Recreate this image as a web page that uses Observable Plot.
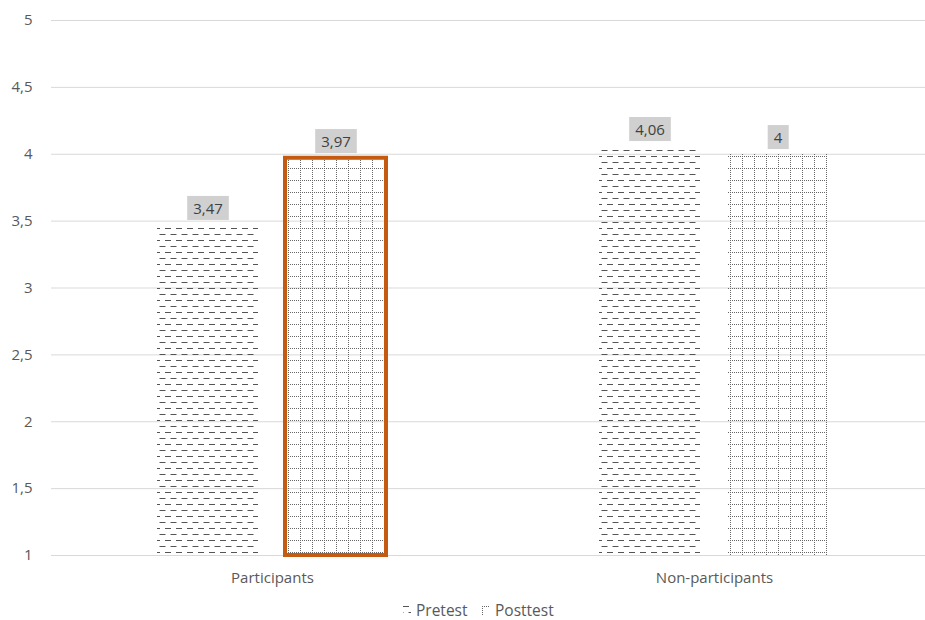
<!DOCTYPE html>
<html>
<head>
<meta charset="utf-8">
<script src="https://cdn.jsdelivr.net/npm/d3@7"></script>
<script src="https://cdn.jsdelivr.net/npm/@observablehq/plot@0.6"></script>
<style>
  body { margin: 0; background: #fff; font-family: "Open Sans", sans-serif; }
  #chart svg { display: block; }
  #legend { position: relative; height: 22px; }
  #legend .item { position: absolute; top: 1px; display: flex; align-items: center; gap: 5px;
                  font-size: 15.5px; color: #595959; }
</style>
</head>
<body>
<!-- fill patterns shared by the bars and the legend swatches -->
<svg width="0" height="0" style="position:absolute">
  <defs>
    <pattern id="pat-pretest" patternUnits="userSpaceOnUse" width="11" height="12">
      <path d="M0,0.5H6M5.5,6.5H11M0,6.5H0.5" stroke="#555" stroke-width="1" fill="none"/>
    </pattern>
    <pattern id="pat-posttest" patternUnits="userSpaceOnUse" width="12" height="12">
      <path d="M0,0.5H12M0.5,0V12" stroke="#666" stroke-width="1" stroke-dasharray="1 1" fill="none"/>
    </pattern>
  </defs>
</svg>
<div id="chart"></div>
<div id="legend"></div>
<script>
const categories = ["Participants", "Non-participants"];
const series = ["Pretest", "Posttest"];
const pretest = [3.47, 4.06];
const posttest = [3.97, 4];
const yTicks = [1, 1.5, 2, 2.5, 3, 3.5, 4, 4.5, 5];
const highlighted = {category: "Participants", series: "Posttest"};

const rows = categories.flatMap((category, i) => [
  {category, series: "Pretest", value: pretest[i]},
  {category, series: "Posttest", value: posttest[i]}
]);

const comma = (d) => String(d).replace(".", ",");
const yMin = yTicks[0];

const chart = Plot.plot({
  width: 925,
  height: 598,
  marginTop: 20,
  marginBottom: 43,
  marginLeft: 51,
  marginRight: 0,
  style: {fontFamily: "Open Sans, sans-serif", fontSize: "15px", color: "#595959", background: "#fff"},
  fx: {domain: categories, range: [51, 935], padding: 0, label: null},
  x: {domain: series, paddingInner: 0.21, paddingOuter: 0.83, axis: null},
  y: {domain: [yTicks[0], yTicks[yTicks.length - 1]], label: null},
  color: {domain: series, range: ["url(#pat-pretest)", "url(#pat-posttest)"]},
  marks: [
    Plot.ruleY(yTicks, {stroke: "#d9d9d9", strokeWidth: 1}),
    Plot.axisY({ticks: yTicks, tickSize: 0, tickPadding: 19, tickFormat: comma, label: null,
                fontSize: 15, fill: "#595959"}),
    Plot.axisFx({anchor: "bottom", tickSize: 0, tickPadding: 17, label: null, fontSize: 15, fill: "#595959"}),
    Plot.barY(rows, {fx: "category", x: "series", y1: yMin, y2: "value", fill: "series"}),
    Plot.barY(rows.filter(d => d.category === highlighted.category && d.series === highlighted.series),
      {fx: "category", x: "series", y1: yMin, y2: "value", fill: "none", stroke: "#c55a11", strokeWidth: 4}),
    Plot.text(rows, {fx: "category", x: "series", y: "value", text: d => comma(d.value), dy: -16,
      fontSize: 15, fill: "#404040", className: "value-labels"})
  ]
});

document.getElementById("chart").append(chart);

// grey boxes behind the value labels
chart.querySelectorAll(".value-labels text").forEach((t) => {
  const b = t.getBBox();
  const cy = b.y + b.height / 2;
  const r = document.createElementNS("http://www.w3.org/2000/svg", "rect");
  r.setAttribute("x", b.x - 6);
  r.setAttribute("y", cy - 12);
  r.setAttribute("width", b.width + 12);
  r.setAttribute("height", 24);
  r.setAttribute("fill", "#d0d0d0");
  const tr = t.getAttribute("transform");
  if (tr) r.setAttribute("transform", tr);
  t.parentNode.insertBefore(r, t);
});

// legend
const legend = document.getElementById("legend");
const legendLeft = [403, 482];
series.forEach((s, i) => {
  const item = document.createElement("div");
  item.className = "item";
  item.style.left = legendLeft[i] + "px";
  item.innerHTML = `<svg width="8" height="9"><rect width="8" height="9" fill="url(#pat-${s.toLowerCase()})"/></svg><span>${s}</span>`;
  legend.append(item);
});
</script>
</body>
</html>
